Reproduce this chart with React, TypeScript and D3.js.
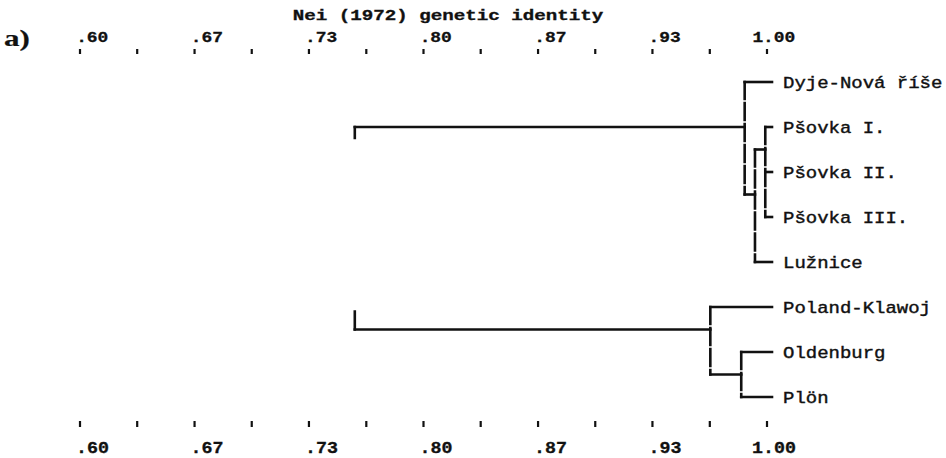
import React, { useEffect, useRef } from "react";
import * as d3 from "d3";

// populations, top to bottom
const leaves = [
  "Dyje-Nová říše",
  "Pšovka I.",
  "Pšovka II.",
  "Pšovka III.",
  "Lužnice",
  "Poland-Klawoj",
  "Oldenburg",
  "Plön",
];

// clusters in joining order: members and Nei identity at the join
const clusterNames = ["psovka", "psovkaLuznice", "czech", "oldenburgPlon", "north", "root"];
const clusterMembers = [
  ["Pšovka I.", "Pšovka II.", "Pšovka III."],
  ["psovka", "Lužnice"],
  ["Dyje-Nová říše", "psovkaLuznice"],
  ["Oldenburg", "Plön"],
  ["Poland-Klawoj", "oldenburgPlon"],
  ["czech", "north"],
];
const clusterIdentity = [0.999, 0.993, 0.987, 0.985, 0.967, 0.76];

const tickValues = [0.6, 0.6333, 0.6667, 0.7, 0.7333, 0.7667, 0.8, 0.8333, 0.8667, 0.9, 0.9333, 0.9667, 1.0];
const tickLabels = [".60", "", ".67", "", ".73", "", ".80", "", ".87", "", ".93", "", "1.00"];
const title = "Nei (1972) genetic identity";
const panelLabel = "a)";

const W = 946;
const H = 458;
const MONO = "'Liberation Mono', 'DejaVu Sans Mono', monospace";

const App = () => {
  const ref = useRef<SVGSVGElement>(null);

  useEffect(() => {
    const svg = d3.select(ref.current);
    svg.selectAll("*").remove();

    const x = d3.scaleLinear().domain([0.6, 1]).range([80, 767]);
    const y = d3.scalePoint<string>().domain(leaves).range([82, 397]);
    const step = y.step();
    const y0 = y(leaves[0])!;

    // text helper: monospace glyphs of the scan are stretched horizontally
    // and printed heavier, so a thin outline thickens them a little
    const label = (
      tx: number,
      ty: number,
      text: string,
      size: number,
      sx: number,
      weight: string,
      outline: number,
      anchor = "start",
      family = MONO
    ) => {
      svg
        .append("g")
        .attr("transform", `translate(${tx},${ty})`)
        .append("text")
        .attr("transform", `scale(${sx},1)`)
        .attr("text-anchor", anchor)
        .attr("font-family", family)
        .attr("font-size", size)
        .attr("font-weight", weight)
        .attr("fill", "#111")
        .attr("stroke", "#111")
        .attr("stroke-width", outline)
        .text(text);
    };

    // title + panel letter
    label(448, 20, title, 14, 1.37, "bold", 0.3, "middle");
    label(4, 46, panelLabel, 23, 1.35, "bold", 0.2, "start", "'Liberation Serif', serif");

    // axes (top and bottom), decimal point sits on the tick
    const axes = [
      { tickTop: 49, tickBottom: 54, base: 41.5, size: 15, cw: 10.75 },
      { tickTop: 421, tickBottom: 427, base: 452.5, size: 16, cw: 11 },
    ];
    axes.forEach((a) => {
      svg
        .append("g")
        .selectAll("line")
        .data(tickValues)
        .enter()
        .append("line")
        .attr("x1", (d) => x(d))
        .attr("x2", (d) => x(d))
        .attr("y1", a.tickTop)
        .attr("y2", a.tickBottom)
        .attr("stroke", "#111")
        .attr("stroke-width", 2.2);
      tickValues.forEach((t, i) => {
        const s = tickLabels[i];
        if (!s) return;
        const dot = s.indexOf(".");
        const sx = a.cw / (a.size * 0.6);
        label(x(t) - (dot + 0.5) * a.cw + 1.5, a.base, s, a.size, sx, "bold", 0.3);
      });
    });

    // dendrogram layout: leaves on rows, joins snap to half rows
    const pos = new Map<string, { x: number; y: number }>();
    leaves.forEach((l) => pos.set(l, { x: x(1) + 5, y: y(l)! }));
    clusterNames.forEach((name, i) => {
      const kids = clusterMembers[i].map((k) => pos.get(k)!);
      const mid = (kids[0].y + kids[1].y) / 2;
      const row = Math.floor(((mid - y0) / step) * 2 + 1e-6) / 2;
      pos.set(name, { x: x(clusterIdentity[i]), y: y0 + row * step });
    });

    const g = svg
      .append("g")
      .attr("fill", "none")
      .attr("stroke", "#111")
      .attr("stroke-width", 2.6)
      .attr("stroke-linecap", "square");

    clusterNames.forEach((name, i) => {
      const node = pos.get(name)!;
      const kids = clusterMembers[i].map((k) => pos.get(k)!);
      const top = d3.min(kids, (k) => k.y)!;
      const bottom = d3.max(kids, (k) => k.y)!;
      const vLine = g
        .append("line")
        .attr("x1", node.x)
        .attr("x2", node.x)
        .attr("y1", top)
        .attr("y2", bottom);
      if (name === "root") {
        // only short stubs of the root join survive in the print
        const len = bottom - top;
        vLine.attr("stroke-dasharray", `11,${len - 29},18`);
      } else {
        vLine.attr("stroke-dasharray", "17,4");
      }
      kids.forEach((k) => {
        g.append("line")
          .attr("x1", node.x)
          .attr("x2", k.x)
          .attr("y1", k.y)
          .attr("y2", k.y);
      });
    });

    // leaf names
    leaves.forEach((l) => {
      label(x(1) + 16, y(l)! + 6, l, 16.5, 1.15, "normal", 0.4);
    });
  }, []);

  return (
    <svg
      ref={ref}
      width={W}
      height={H}
      style={{ position: "absolute", left: 0, top: 0, background: "#fff" }}
    />
  );
};

export default App;
